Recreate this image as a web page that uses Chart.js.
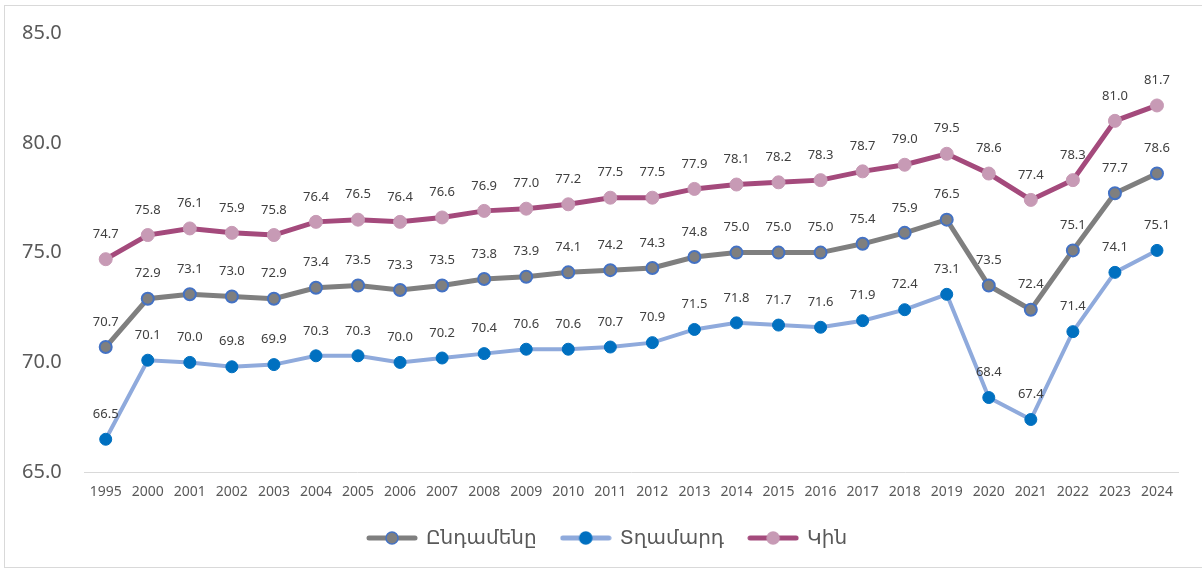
<!DOCTYPE html>
<html>
<head>
<meta charset="utf-8">
<script src="https://cdn.jsdelivr.net/npm/chart.js@4.4.1/dist/chart.umd.min.js"></script>
<style>
  html, body { margin: 0; padding: 0; background: #fff; }
  #wrap { width: 1202px; height: 570px; position: relative; }
</style>
</head>
<body>
<div id="wrap"><canvas id="chart"></canvas></div>
<script>
// 1995, 2000-2024
const years = ["1995", "2000", "2001", "2002", "2003", "2004", "2005", "2006", "2007", "2008",
  "2009", "2010", "2011", "2012", "2013", "2014", "2015", "2016", "2017", "2018",
  "2019", "2020", "2021", "2022", "2023", "2024"];

const total = [70.7, 72.9, 73.1, 73.0, 72.9, 73.4, 73.5, 73.3, 73.5, 73.8,
  73.9, 74.1, 74.2, 74.3, 74.8, 75.0, 75.0, 75.0, 75.4, 75.9,
  76.5, 73.5, 72.4, 75.1, 77.7, 78.6];

const male = [66.5, 70.1, 70.0, 69.8, 69.9, 70.3, 70.3, 70.0, 70.2, 70.4,
  70.6, 70.6, 70.7, 70.9, 71.5, 71.8, 71.7, 71.6, 71.9, 72.4,
  73.1, 68.4, 67.4, 71.4, 74.1, 75.1];

const female = [74.7, 75.8, 76.1, 75.9, 75.8, 76.4, 76.5, 76.4, 76.6, 76.9,
  77.0, 77.2, 77.5, 77.5, 77.9, 78.1, 78.2, 78.3, 78.7, 79.0,
  79.5, 78.6, 77.4, 78.3, 81.0, 81.7];

const seriesNames = ["Ընդամենը", "Տղամարդ", "Կին"];
const yTicks = [65, 70, 75, 80, 85];

const FONT = "'Noto Sans', 'DejaVu Sans', sans-serif";

// legend symbol: line with a dot in the middle
function legendIcon(lineColor, fill, stroke) {
  const c = document.createElement("canvas");
  c.width = 52;
  c.height = 16;
  const g = c.getContext("2d");
  g.strokeStyle = lineColor;
  g.lineWidth = 5;
  g.lineCap = "round";
  g.beginPath();
  g.moveTo(3, 8);
  g.lineTo(49, 8);
  g.stroke();
  g.beginPath();
  g.arc(26, 8, 6, 0, Math.PI * 2);
  g.fillStyle = fill;
  g.fill();
  g.lineWidth = 1.5;
  g.strokeStyle = stroke;
  g.stroke();
  return c;
}

const styles = [
  { line: "#7F7F7F", fill: "#7F7F7F", border: "#4472C4", width: 5, r: 6, bw: 2 },
  { line: "#8FAADC", fill: "#0070C0", border: "#0070C0", width: 4, r: 6, bw: 1 },
  { line: "#A44A7C", fill: "#C79AB5", border: "#C79AB5", width: 5, r: 6.5, bw: 1 },
];
const icons = styles.map(s => legendIcon(s.line, s.fill, s.border));

// value labels above points
const valueLabels = {
  id: "valueLabels",
  afterDatasetsDraw(chart) {
    const ctx = chart.ctx;
    ctx.save();
    ctx.font = "13px " + FONT;
    ctx.fillStyle = "#404040";
    ctx.textAlign = "center";
    ctx.textBaseline = "middle";
    chart.data.datasets.forEach((ds, i) => {
      const meta = chart.getDatasetMeta(i);
      meta.data.forEach((pt, j) => {
        ctx.fillText(ds.data[j].toFixed(1), pt.x, pt.y - 25);
      });
    });
    ctx.restore();
  }
};

// thin frame + legend nudged a bit right (it sits off-centre in the original)
const frame = {
  id: "frame",
  afterLayout(chart) {
    chart.legend.left += 15;
    chart.legend.right += 15;
  },
  beforeDraw(chart) {
    const ctx = chart.ctx;
    ctx.save();
    ctx.strokeStyle = "#D9D9D9";
    ctx.lineWidth = 1;
    ctx.strokeRect(4.5, 5.5, 1205, 562);
    ctx.restore();
  }
};

function makeSet(label, data, s) {
  return {
    label: label,
    data: data,
    borderColor: s.line,
    borderWidth: s.width,
    backgroundColor: s.line,
    pointBackgroundColor: s.fill,
    pointBorderColor: s.border,
    pointBorderWidth: s.bw,
    pointRadius: s.r,
    pointHoverRadius: s.r,
    tension: 0,
  };
}

new Chart(document.getElementById("chart"), {
  type: "line",
  data: {
    labels: years,
    datasets: [
      makeSet(seriesNames[0], total, styles[0]),
      makeSet(seriesNames[1], male, styles[1]),
      makeSet(seriesNames[2], female, styles[2]),
    ]
  },
  options: {
    responsive: true,
    maintainAspectRatio: false,
    animation: false,
    layout: { padding: { left: 7, right: 24, top: 33, bottom: 12 } },
    scales: {
      x: {
        offset: true,
        grid: { display: false },
        border: { color: "#D9D9D9", width: 1 },
        ticks: { color: "#595959", font: { family: FONT, size: 14 }, padding: 3, maxRotation: 0, autoSkip: false }
      },
      y: {
        min: 65,
        max: 85,
        afterBuildTicks: (scale) => { scale.ticks = yTicks.map(v => ({ value: v })); },
        grid: { display: false },
        border: { display: false },
        ticks: {
          color: "#595959",
          font: { family: FONT, size: 20 },
          padding: 15,
          callback: (v) => Number(v).toFixed(1)
        }
      }
    },
    plugins: {
      tooltip: { enabled: false },
      legend: {
        position: "bottom",
        labels: {
          usePointStyle: true,
          pointStyleWidth: 48,
          padding: 25,
          color: "#595959",
          font: { family: FONT, size: 20 },
          generateLabels: (chart) => chart.data.datasets.map((ds, i) => ({
            text: ds.label,
            pointStyle: icons[i],
            fontColor: "#595959",
            hidden: false,
            datasetIndex: i,
            lineWidth: 0,
            strokeStyle: "transparent",
            fillStyle: "transparent",
          }))
        }
      }
    }
  },
  plugins: [frame, valueLabels]
});
</script>
</body>
</html>
